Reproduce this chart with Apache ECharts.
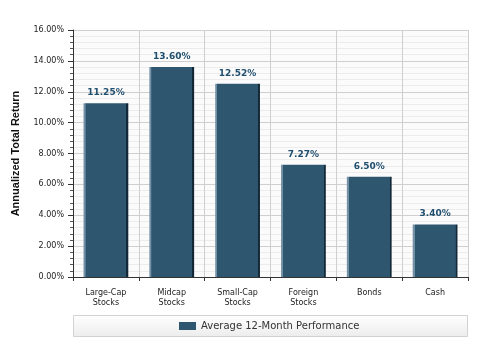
<!DOCTYPE html>
<html><head><meta charset="utf-8">
<script src="https://cdn.jsdelivr.net/npm/echarts@6/dist/echarts.min.js"></script>
<style>html,body{margin:0;padding:0;background:#fff}#c{width:480px;height:360px}</style>
</head><body><div id="c"></div>
<script>
var categories = ['Large-Cap\nStocks', 'Midcap\nStocks', 'Small-Cap\nStocks', 'Foreign\nStocks', 'Bonds', 'Cash'];
var values = [11.25, 13.60, 12.52, 7.27, 6.50, 3.40];
var seriesName = 'Average 12-Month Performance';
var yTitle = 'Annualized Total Return';

var chart = echarts.init(document.getElementById('c'), null, {renderer: 'canvas'});
var barGrad = new echarts.graphic.LinearGradient(0, 0, 1, 0, [
  {offset: 0, color: '#7391a6'},
  {offset: 0.04, color: '#7391a6'},
  {offset: 0.05, color: '#2f566f'},
  {offset: 0.955, color: '#2f566f'},
  {offset: 0.96, color: '#132836'},
  {offset: 1, color: '#132836'}
]);
chart.setOption({
  animation: false,
  backgroundColor: '#fff',
  textStyle: {fontFamily: 'DejaVu Sans'},
  grid: {left: 73, right: 12, top: 30, bottom: 83, show: true, backgroundColor: '#fbfbfb', borderWidth: 0},
  graphic: [{
    type: 'rect', left: 73, top: 315, z: 0,
    shape: {width: 394, height: 21},
    style: {
      fill: new echarts.graphic.LinearGradient(0, 0, 0, 1, [{offset: 0, color: '#ffffff'}, {offset: 1, color: '#ececec'}]),
      stroke: '#d2d2d2', lineWidth: 1
    }
  }],
  legend: {
    show: true, left: 179, top: 321, padding: 0, itemWidth: 17, itemHeight: 8, itemGap: 5,
    textStyle: {fontSize: 10, color: '#333', fontFamily: 'DejaVu Sans'},
    data: [{name: seriesName, icon: 'rect', itemStyle: {color: '#2f566f'}}]
  },
  xAxis: {
    type: 'category', data: categories, boundaryGap: true,
    axisLine: {show: true, lineStyle: {color: '#333', width: 1}},
    axisTick: {show: true, length: 4, lineStyle: {color: '#333'}},
    axisLabel: {fontSize: 8, color: '#222', margin: 11, lineHeight: 10, fontFamily: 'DejaVu Sans'},
    splitLine: {show: true, lineStyle: {color: '#cfcfcf', width: 1}}
  },
  yAxis: {
    type: 'value', min: 0, max: 16, interval: 2,
    name: yTitle, nameLocation: 'middle', nameGap: 52,
    nameTextStyle: {fontSize: 11, fontWeight: 'bold', color: '#111', fontFamily: 'Liberation Sans'},
    axisLine: {show: true, lineStyle: {color: '#333', width: 1}},
    axisTick: {show: true, length: 5, inside: false, lineStyle: {color: '#333'}},
    minorTick: {show: true, splitNumber: 5, length: 3, lineStyle: {color: '#555'}},
    minorSplitLine: {show: true, lineStyle: {color: '#ececec', width: 1}},
    axisLabel: {fontSize: 8, color: '#222', margin: 9, formatter: function (v) { return v.toFixed(2) + '%'; }, fontFamily: 'DejaVu Sans'},
    splitLine: {show: true, lineStyle: {color: '#cfcfcf', width: 1}}
  },
  series: [{
    name: seriesName, type: 'bar', data: values, barCategoryGap: '32%',
    itemStyle: {color: barGrad, borderColor: '#1f3d52', borderWidth: 0},
    label: {
      show: true, position: 'top', distance: 6,
      fontSize: 9, fontWeight: 'bold', color: '#1f4e6e', fontFamily: 'DejaVu Sans',
      formatter: function (p) { return p.value.toFixed(2) + '%'; }
    }
  }]
});
</script></body></html>
